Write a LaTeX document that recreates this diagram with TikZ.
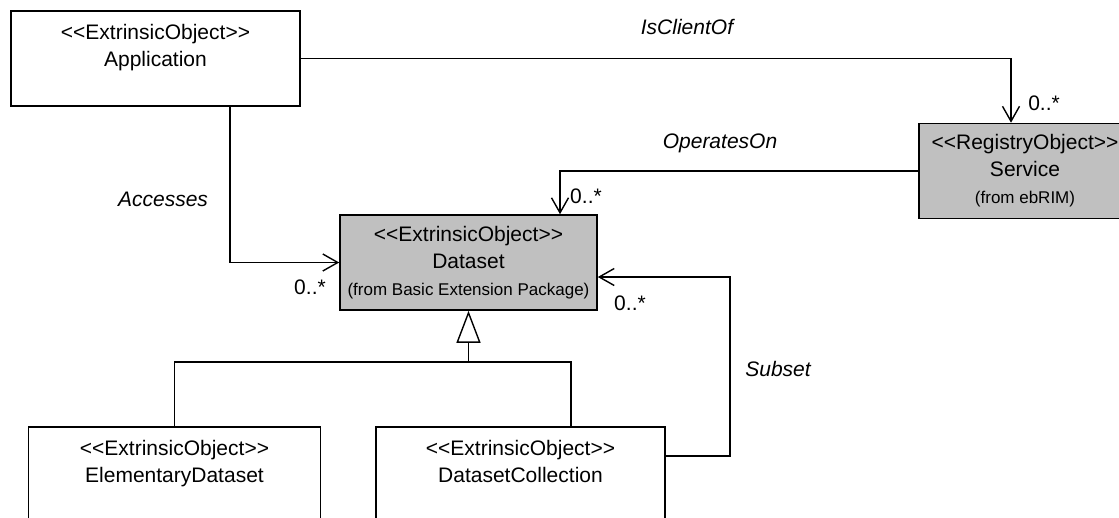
\documentclass[tikz,border=0pt]{standalone}
\usepackage{fontspec}
\setmainfont{Liberation Sans}
\usetikzlibrary{arrows.meta,positioning}
\definecolor{umlgray}{RGB}{192,192,192}
\newcommand{\stype}[1]{<{}<#1>{}>}
\tikzset{
cls/.style={shape=rectangle,draw,line width=1.6pt,inner sep=0pt,align=center,font=\fontsize{21}{27}\selectfont},
assoc/.style={line width=1.6pt,-{Straight Barb[length=15pt,width=17pt,line width=1.4pt]}},
lbl/.style={font=\fontsize{21}{27}\selectfont\itshape},
mult/.style={font=\fontsize{21}{27}\selectfont}
}

\begin{document}
\begin{tikzpicture}[x=1pt,y=-1pt]
\useasboundingbox (0,0) rectangle (1119,517);
\clip (0,0) rectangle (1119,517);
\node[cls,minimum width=289,minimum height=95](app) at (155.5,58.5) {\stype{ExtrinsicObject}\\Application\\~};
\node[cls,fill=umlgray,minimum width=212,minimum height=95](serv) at (1025,171) {\stype{RegistryObject}\\Service\\{\fontsize{17}{27}\selectfont (from ebRIM)}};
\node[cls,fill=umlgray,minimum width=257,minimum height=95](data) at (468.5,262.5) {\stype{ExtrinsicObject}\\Dataset\\{\fontsize{17}{27}\selectfont (from Basic Extension Package)}};
\node[cls,minimum width=292,minimum height=95](elem) at (174.5,474.5) {\stype{ExtrinsicObject}\\ElementaryDataset\\~};
\node[cls,minimum width=289,minimum height=95](coll) at (520.5,474.5) {\stype{ExtrinsicObject}\\DatasetCollection\\~};
\coordinate (bar) at ([yshift=-51pt]data.south);
% associations
\draw[assoc] (app.east) -| ([xshift=-14pt]serv.north);
\draw[assoc] (serv.west) -| ([xshift=91.5pt]data.north);
\draw[assoc] ([xshift=74.5pt]app.south) |- (data.west);
\draw[assoc] ([yshift=18.5pt]coll.east) -- ++(64,0) |- ([yshift=-14.5pt]data.east);
% generalization
\draw[line width=1.6pt,-{Triangle[open,length=32pt,width=24pt,line width=1.4pt]}] (bar) -- (data.south);
\draw[line width=1.6pt] (elem.north) |- (bar) -| ([xshift=50.5pt]coll.north);
% labels
\node[lbl](isclient) at (687,27) {IsClientOf};
\node[mult](mserv) at (1044,103) {0..*};
\node[lbl](opson) at (720,143) {OperatesOn};
\node[mult](mdtop) at (586,196) {0..*};
\node[lbl](acc) at (163,199) {Accesses};
\node[mult](mdleft) at (310,287) {0..*};
\node[mult](mdright) at (630,303) {0..*};
\node[lbl](subs) at (778,369) {Subset};
\end{tikzpicture}
\end{document}
